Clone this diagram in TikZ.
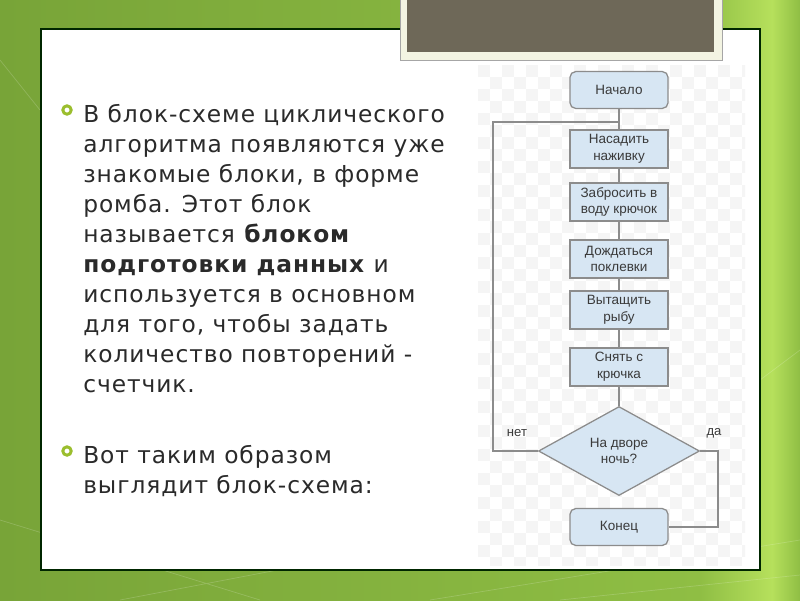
\documentclass[tikz,border=0pt]{standalone}
\usepackage{fontspec}
\setmainfont{DejaVu Sans}[LetterSpace=4]
\newfontfamily\flowfont{Liberation Sans}
\usetikzlibrary{shapes.geometric}
\definecolor{bgdark}{HTML}{78A438}
\definecolor{bgmid}{HTML}{8FBE44}
\definecolor{bgbright}{HTML}{B6E05C}
\definecolor{titlebrown}{HTML}{6E6858}
\definecolor{titleframe}{HTML}{F3F4E2}
\definecolor{bulletgreen}{HTML}{9BBE2E}
\definecolor{bodytext}{HTML}{2A2A2A}
\definecolor{boxfill}{HTML}{D7E6F3}
\definecolor{boxline}{HTML}{8C8C8C}
\definecolor{flowtext}{HTML}{3A3A3A}

\tikzset{
  flowline/.style={draw=boxline, line width=0.9pt},
  procbox/.style={rectangle, draw=boxline, fill=boxfill, line width=0.9pt,
    minimum width=2.45cm, minimum height=0.95cm, inner sep=1pt, align=center,
    text=flowtext, font=\flowfont\fontsize{9.6}{11.9}\selectfont},
  termbox/.style={procbox, rounded corners=4pt, minimum height=0.92cm},
  decbox/.style={diamond, draw=boxline, fill=boxfill, line width=0.9pt,
    minimum width=4.025cm, minimum height=2.225cm, inner sep=0pt, align=center,
    text=flowtext, font=\flowfont\fontsize{9.6}{11.9}\selectfont},
  flowlabel/.style={text=flowtext, font=\flowfont\fontsize{9.3}{11}\selectfont},
  bodyline/.style={anchor=base west, inner sep=0pt, text=bodytext,
    font=\fontsize{16.6}{21.5}\selectfont},
  bulletring/.style={draw=bulletgreen, line width=2.1pt, fill=white},
  checker/.style={fill=black!4}
}

\begin{document}
\begin{tikzpicture}[x=0.025cm, y=-0.025cm]
\useasboundingbox (0,0) rectangle (800,600);

% background
\shade[left color=bgdark, right color=bgmid] (0,0) rectangle (700,600);
\shade[left color=bgmid, right color=bgbright] (700,0) rectangle (772,600);
\shade[left color=bgbright, right color=bgmid] (772,0) rectangle (800,600);
\draw[white, opacity=0.18, line width=0.5pt] (0,520) -- (260,600)
  (120,600) -- (330,560) (430,600) -- (800,540) (560,600) -- (800,575)
  (0,60) -- (40,110) (760,380) -- (800,350);

% slide panel
\draw[fill=white, draw=black!85!green, line width=0.8pt] (41,29) rectangle (760,570);

% title placeholder
\draw[fill=titleframe, draw=black!35, line width=0.4pt] (400,-2) rectangle (722,60);
\fill[titlebrown] (407,-2) rectangle (714,52);

% faint checker behind the flowchart
\begin{scope}
\clip (478,65) rectangle (745,565);
\foreach \cx in {478,502,...,742}
  \foreach \cy in {65,89,...,565} {
    \fill[checker] (\cx,\cy) rectangle ++(12,12);
    \fill[checker] (\cx+12,\cy+12) rectangle ++(12,12);
  }
\end{scope}

% text
\draw[bulletring] (67,110) circle (4.2);
\foreach \ln [count=\i] in {{В блок-схеме циклического},{алгоритма появляются уже},
  {знакомые блоки, в форме},{ромба. Этот блок},{называется \textbf{блоком}},
  {\textbf{подготовки данных} и},{используется в основном},{для того, чтобы задать},
  {количество повторений -},{счетчик.}}
  \node[bodyline] (p1l\i) at (83,{122+(\i-1)*30.1}) {\ln};
\draw[bulletring] (67,451) circle (4.2);
\node[bodyline] (p2l1) at (83,463) {Вот таким образом};
\node[bodyline] (p2l2) at (83,493.5) {выглядит блок-схема:};

% flowchart
\node[termbox] (start) at (619,90) {Начало};
\node[procbox] (bait) at (619,149) {Насадить\\наживку};
\node[procbox] (cast) at (619,202) {Забросить в\\воду крючок};
\node[procbox] (wait) at (619,259) {Дождаться\\поклевки};
\node[procbox] (pull) at (619,310) {Вытащить\\рыбу};
\node[procbox] (unhook) at (619,367) {Снять с\\крючка};
\node[decbox] (night) at (619,451) {На дворе\\ночь?};
\node[termbox] (stop) at (619,527) {Конец};
\node[flowlabel] (nolbl) at (517,433) {нет};
\node[flowlabel] (yeslbl) at (714,433) {да};

\coordinate (back) at (493,122);
\coordinate (yes) at (718,527);

\draw[flowline] (start) -- (bait) -- (cast) -- (wait) -- (pull) -- (unhook) -- (night);
\draw[flowline] (night.west) -| (back) -- (back -| start.south);
\draw[flowline] (night.east) -| (yes) -- (stop.east);
\end{tikzpicture}
\end{document}
